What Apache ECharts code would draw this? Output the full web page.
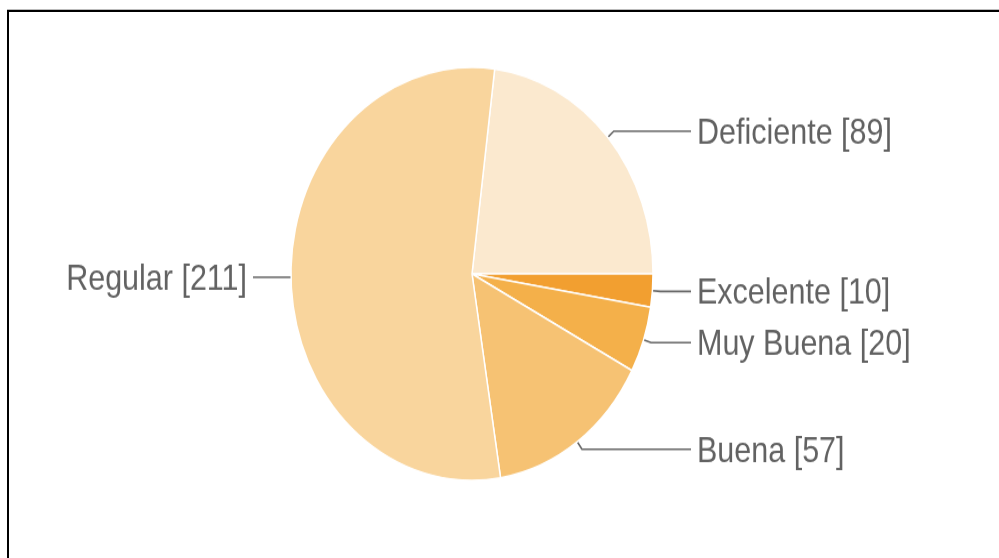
<!DOCTYPE html>
<html>
<head>
<meta charset="utf-8">
<title>Calificación</title>
<script src="https://cdn.jsdelivr.net/npm/echarts@6/dist/echarts.min.js"></script>
<style>
  html, body { margin: 0; padding: 0; background: #fff; overflow: hidden; }
  body { width: 999px; height: 558px; position: relative; }
  #frame {
    position: absolute; left: 7px; top: 10px; right: -20px; bottom: -20px;
    border-left: 2.5px solid #000; border-top: 2.5px solid #000;
    box-shadow: 0 -1px 0 #bbb;
  }
  /* the drawing is rendered on a shorter canvas and stretched vertically */
  #chart {
    position: absolute; left: 0; top: 0; width: 999px; height: 489px;
    transform: scaleY(1.141); transform-origin: 0 0;
  }
</style>
</head>
<body>
<div id="frame"></div>
<div id="chart"></div>
<script>
// Slice order runs clockwise from the top-right slice
const categories = ['Deficiente', 'Excelente', 'Muy Buena', 'Buena', 'Regular'];
const values = [89, 10, 20, 57, 211];
const sliceColors = ['#fbe9cf', '#f29f30', '#f4b04a', '#f6c273', '#f9d59d'];

const total = values.reduce((a, b) => a + b, 0);
// First slice ends exactly at the 3 o'clock position
const startAngle = values[0] / total * 360;

const CX = 472, CY = 240, R = 181;
const LINE_LEN = 8, LINE_LEN2 = 30, TEXT_GAP = 6, TEXT_DROP = 2.5;
// Horizontal leader segments on each side end on a common column
const rightEnd = CX + R + LINE_LEN + LINE_LEN2;
const leftEnd = CX - R - LINE_LEN - LINE_LEN2;

const chart = echarts.init(document.getElementById('chart'), null, { renderer: 'canvas' });

chart.setOption({
  animation: false,
  series: [{
    type: 'pie',
    center: [CX, CY],
    radius: R,
    startAngle: startAngle,
    clockwise: true,
    avoidLabelOverlap: true,
    itemStyle: { borderColor: '#ffffff', borderWidth: 1.5 },
    emphasis: { disabled: true },
    label: {
      show: true,
      position: 'outside',
      distanceToLabelLine: TEXT_GAP,
      formatter: p => p.name + ' [' + p.value + ']',
      fontFamily: 'Arial, "Liberation Sans", sans-serif',
      fontSize: 30.5,
      color: '#626262'
    },
    labelLine: {
      show: true,
      length: LINE_LEN,
      length2: LINE_LEN2,
      smooth: false,
      lineStyle: { color: '#666666', width: 1.6 }
    },
    labelLayout: function (params) {
      const pts = params.labelLinePoints;
      if (!pts) return {};
      const isRight = pts[2][0] >= CX;
      const endX = isRight ? rightEnd : leftEnd;
      const newPts = [pts[0].slice(), pts[1].slice(), [endX, pts[1][1]]];
      return {
        x: isRight ? endX + TEXT_GAP : endX - TEXT_GAP,
        y: pts[1][1] + TEXT_DROP,
        align: isRight ? 'left' : 'right',
        verticalAlign: 'middle',
        labelLinePoints: newPts
      };
    },
    data: categories.map((name, i) => ({
      name: name,
      value: values[i],
      itemStyle: { color: sliceColors[i] }
    }))
  }]
});
</script>
</body>
</html>
